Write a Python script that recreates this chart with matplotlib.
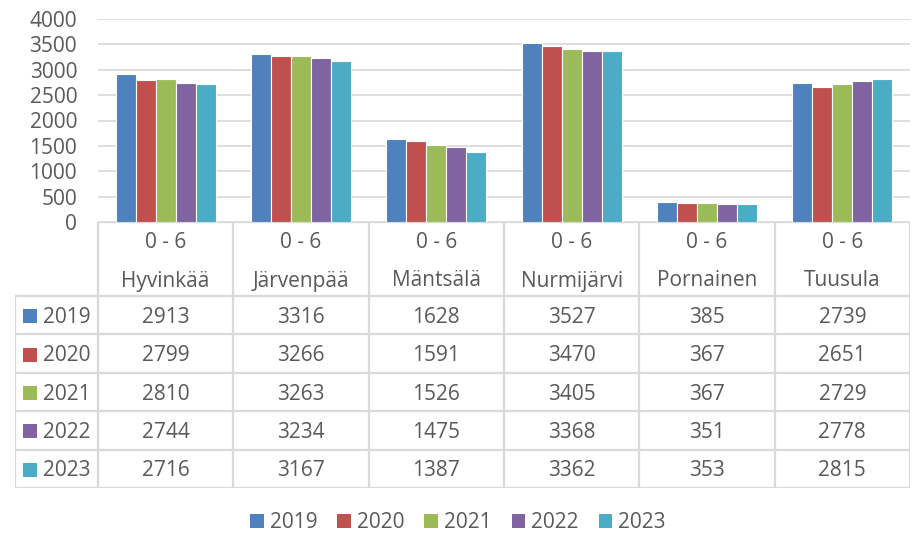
import matplotlib
matplotlib.use('Agg')
import matplotlib.pyplot as plt
from matplotlib.patches import Patch
import numpy as np

plt.rcParams['font.family'] = ['Open Sans', 'DejaVu Sans']

# data
kunnat = ['Hyvinkää', 'Järvenpää', 'Mäntsälä', 'Nurmijärvi', 'Pornainen', 'Tuusula']
ikaryhma = '0 - 6'
vuodet = ['2019', '2020', '2021', '2022', '2023']
v2019 = [2913, 3316, 1628, 3527, 385, 2739]
v2020 = [2799, 3266, 1591, 3470, 367, 2651]
v2021 = [2810, 3263, 1526, 3405, 367, 2729]
v2022 = [2744, 3234, 1475, 3368, 351, 2778]
v2023 = [2716, 3167, 1387, 3362, 353, 2815]
sarjat = [v2019, v2020, v2021, v2022, v2023]
colors = ['#4F81BD', '#C0504D', '#9BBB59', '#8064A2', '#4BACC6']

TXT = '#595959'
GRID = '#D9D9D9'
W, H = 922, 533
FS = 15

fig = plt.figure(figsize=(W / 100, H / 100), dpi=100)

# plot area in pixels
left, right, top, bottom = 98, 910, 19, 222
ax = fig.add_axes([left / W, 1 - bottom / H, (right - left) / W, (bottom - top) / H])

n = len(kunnat)
x = np.arange(n)
bw = 20 / 135.33
for i, vals in enumerate(sarjat):
    ax.bar(x + (i - 2) * bw, vals, bw, color=colors[i], edgecolor='white', linewidth=0.8, zorder=3)

ax.set_xlim(-0.5, n - 0.5)
ax.set_ylim(0, 4000)
ax.set_yticks(np.arange(0, 4001, 500))
ax.tick_params(axis='y', length=0, labelsize=FS, labelcolor=TXT, pad=15)
ax.set_xticks([])
ax.grid(axis='y', color=GRID, linewidth=1.2, zorder=0)
for s in ax.spines.values():
    s.set_visible(False)

# table below the plot, x in category units, y in pixels from the table top
tleft, tbottom = 15, 488
colw = (right - left) / n
tax = fig.add_axes([tleft / W, 1 - tbottom / H, (right - tleft) / W, (tbottom - bottom) / H])
tax.set_xlim(-0.5 - (left - tleft) / colw, n - 0.5)
tax.set_ylim(tbottom - bottom, 0)
tax.axis('off')

lw = 1.6
hdr = 74
rowh = (tbottom - bottom - hdr) / len(vuodet)
xl = -0.5 - (left - tleft) / colw

# header lines
tax.plot([-0.5, n - 0.5], [0, 0], color=GRID, lw=lw)
tax.plot([xl, n - 0.5], [hdr, hdr], color=GRID, lw=lw)
for k in range(n + 1):
    tax.plot([k - 0.5, k - 0.5], [0, tbottom - bottom], color=GRID, lw=lw)
tax.plot([xl, xl], [hdr, tbottom - bottom], color=GRID, lw=lw)
for r in range(1, len(vuodet) + 1):
    tax.plot([xl, n - 0.5], [hdr + r * rowh, hdr + r * rowh], color=GRID, lw=lw)

for k, name in enumerate(kunnat):
    tax.text(k, 21, ikaryhma, ha='center', va='center', fontsize=FS, color=TXT)
    tax.text(k, 59, name, ha='center', va='center', fontsize=FS, color=TXT)

for r, (yr, vals) in enumerate(zip(vuodet, sarjat)):
    yc = hdr + (r + 0.5) * rowh
    tax.add_patch(plt.Rectangle((xl + 8 / colw, yc - 6), 14 / colw, 14, color=colors[r], lw=0))
    tax.text(xl + 28 / colw, yc + 2, yr, ha='left', va='center', fontsize=FS, color=TXT)
    for k, v in enumerate(vals):
        tax.text(k, yc + 2, str(v), ha='center', va='center', fontsize=FS, color=TXT)

handles = [Patch(facecolor=c, edgecolor='none') for c in colors]
fig.legend(handles, vuodet, loc='center', bbox_to_anchor=(458 / W, 1 - 523 / H), ncol=5,
           frameon=False, fontsize=FS, labelcolor=TXT, handlelength=0.65, handleheight=0.65,
           handletextpad=0.3, columnspacing=0.95)

fig.savefig('out.png', dpi=100)
